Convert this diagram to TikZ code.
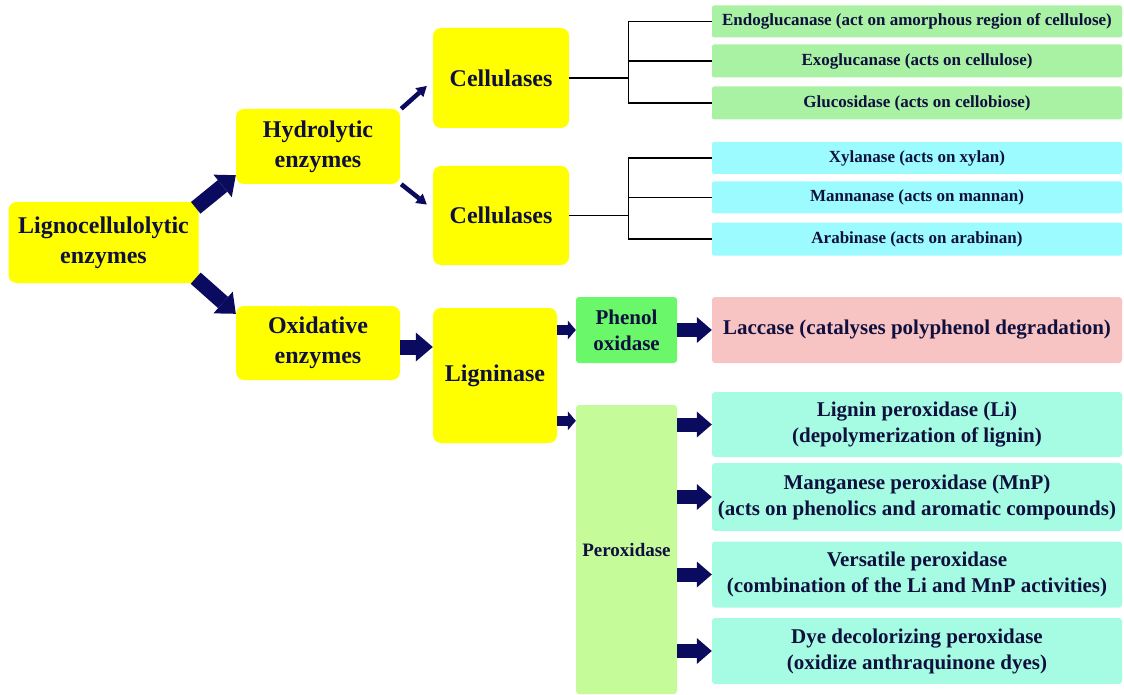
\documentclass[tikz,border=0pt]{standalone}
\usepackage{fontspec}
\setmainfont{Liberation Serif}
\usepackage{xcolor}
\usepackage{tikz}
\usetikzlibrary{arrows.meta,calc}
\definecolor{enzyellow}{HTML}{FFFF00}
\definecolor{celgreen}{HTML}{A9F2A3}
\definecolor{hemicyan}{HTML}{9CFBFF}
\definecolor{phenolgreen}{HTML}{6AF76A}
\definecolor{laccpink}{HTML}{F8C3C3}
\definecolor{peroxlime}{HTML}{C6FB9A}
\definecolor{peroxteal}{HTML}{A6FCE2}
\definecolor{inknavy}{HTML}{10103F}
\definecolor{arrownavy}{HTML}{0A0A5E}
\tikzset{
  bigbox/.style={fill=enzyellow, rounded corners=8pt, align=center, inner sep=0pt, text=inknavy, font=\bfseries\fontsize{24}{30}\selectfont},
  midbox/.style={fill=#1, rounded corners=3pt, align=center, inner sep=0pt, text=inknavy, minimum width=101pt},
  listbox/.style={fill=#1, rounded corners=2pt, align=center, inner sep=0pt, text=inknavy, minimum width=410pt, minimum height=33pt, font=\bfseries\fontsize{17}{20}\selectfont},
  actbox/.style={fill=#1, rounded corners=3pt, align=center, inner sep=0pt, text=inknavy, minimum width=410pt, font=\bfseries\fontsize{21}{26}\selectfont},
  bigarrow/.style={draw=arrownavy, line width=15pt, -{Triangle[length=17pt, width=29pt, line width=0pt]}},
  rowarrow/.style={draw=arrownavy, line width=14pt, -{Triangle[length=15pt, width=26pt, line width=0pt]}},
  midarrow/.style={draw=arrownavy, line width=10pt, -{Triangle[length=8pt, width=19pt, line width=0pt]}},
  thinarrow/.style={draw=arrownavy, line width=4.5pt, -{Triangle[length=10pt, width=12pt, line width=0pt]}},
  treeline/.style={draw=black, line width=1.3pt}
}

\begin{document}
\begin{tikzpicture}[x=1pt, y=-1pt]
  \useasboundingbox (0,0) rectangle (1124,695);
  % yellow main boxes
  \node[bigbox, minimum width=190pt, minimum height=81pt] (ligno) at (103.5,242.5) {Lignocellulolytic\\enzymes};
  \node[bigbox, minimum width=164pt, minimum height=75pt] (hydro) at (318,146.5) {Hydrolytic\\enzymes};
  \node[bigbox, minimum width=164pt, minimum height=74pt] (oxid) at (318,343) {Oxidative\\enzymes};
  \node[bigbox, minimum width=136pt, minimum height=100pt] (cell1) at (501,78) {Cellulases};
  \node[bigbox, minimum width=136pt, minimum height=99pt] (cell2) at (501,215.5) {Cellulases};
  \node[bigbox, minimum width=124pt, minimum height=135pt] (lign) at (495,375.5) {Ligninase};

  \node[midbox=phenolgreen, minimum height=66pt, font=\bfseries\fontsize{21}{26}\selectfont] (phenol) at (626.5,330) {Phenol\\oxidase};
  \node[midbox=peroxlime, minimum height=289pt, font=\bfseries\fontsize{19}{23}\selectfont] (perox) at (626.5,549.5) {Peroxidase};

  % enzyme lists
  \node[listbox=celgreen, minimum height=32pt] (endo) at (917,21.5) {Endoglucanase (act on amorphous region of cellulose)};
  \node[listbox=celgreen] (exo) at (917,61) {Exoglucanase (acts on cellulose)};
  \node[listbox=celgreen] (gluc) at (917,103) {Glucosidase (acts on cellobiose)};
  \node[listbox=hemicyan, minimum height=32pt] (xyl) at (917,158) {Xylanase (acts on xylan)};
  \node[listbox=hemicyan, minimum height=32pt] (mann) at (917,197.5) {Mannanase (acts on mannan)};
  \node[listbox=hemicyan] (arab) at (917,239) {Arabinase (acts on arabinan)};

  \node[actbox=laccpink, minimum height=66pt] (lacc) at (917,330) {Laccase (catalyses polyphenol degradation)};
  \node[actbox=peroxteal, minimum height=65pt] (lip) at (917,424.5) {Lignin peroxidase (Li)\\(depolymerization of lignin)};
  \node[actbox=peroxteal, minimum height=68pt] (mnp) at (917,497) {Manganese peroxidase (MnP)\\(acts on phenolics and aromatic compounds)};
  \node[actbox=peroxteal, minimum height=66pt] (vp) at (917,574.5) {Versatile peroxidase\\(combination of the Li and MnP activities)};
  \node[actbox=peroxteal, minimum height=66pt] (dyp) at (917,651) {Dye decolorizing peroxidase\\(oxidize anthraquinone dyes)};

  % arrows
  \draw[bigarrow] ([xshift=-3pt, yshift=-6pt]ligno.north east) -- ([yshift=9pt]hydro.south west);
  \draw[bigarrow] ([xshift=-3pt, yshift=5pt]ligno.south east) -- ([yshift=-8pt]oxid.north west);
  \draw[thinarrow] ([xshift=1pt]hydro.north east) -- ([xshift=-6pt, yshift=-8pt]cell1.west);
  \draw[thinarrow] ([xshift=1pt]hydro.south east) -- ([xshift=-6pt, yshift=11pt]cell2.west);
  \draw[bigarrow] ([yshift=-4pt]oxid.east) -- ([yshift=-4pt]oxid.east -| lign.west);
  \draw[midarrow] (lign.east |- phenol.west) -- (phenol.west);
  \draw[midarrow] ([yshift=-16pt]perox.north west -| lign.east) -- ([yshift=-16pt]perox.north west);
  \draw[rowarrow] (phenol.east) -- (lacc.west);
  \foreach \target in {lip,mnp,vp,dyp}
    \draw[rowarrow] (perox.east |- \target.west) -- (\target.west);

  % branch lines
  \draw[treeline] (cell1.east) -- ++(59,0) coordinate (jA);
  \draw[treeline] (jA |- endo.west) -- (jA |- gluc.west);
  \foreach \target in {endo,exo,gluc}
    \draw[treeline] (jA |- \target.west) -- (\target.west);
  \draw[treeline] (cell2.east) -- ++(59,0) coordinate (jB);
  \draw[treeline] (jB |- xyl.west) -- (jB |- arab.west);
  \foreach \target in {xyl,mann,arab}
    \draw[treeline] (jB |- \target.west) -- (\target.west);
\end{tikzpicture}
\end{document}
